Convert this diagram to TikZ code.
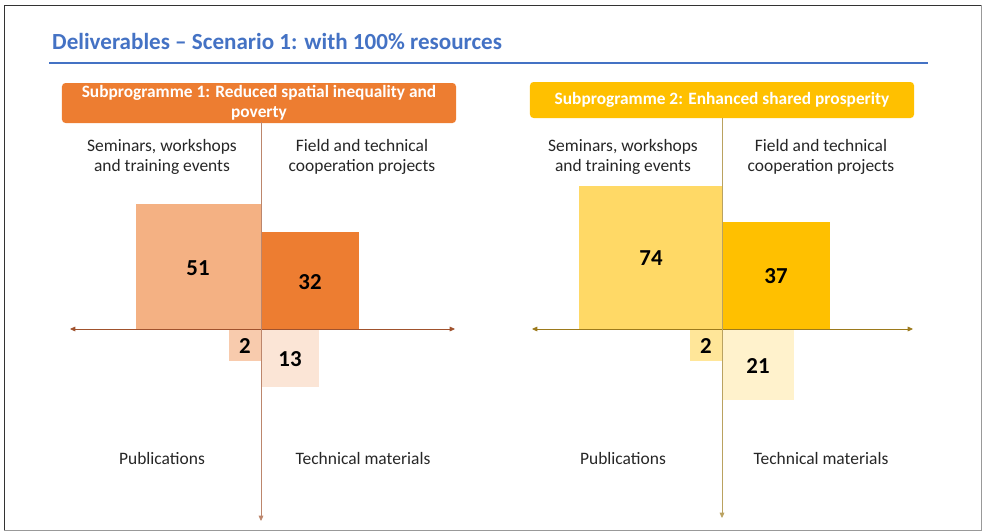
\documentclass[tikz,border=0pt]{standalone}
\usepackage{fontspec}
\setmainfont{Carlito}
\usetikzlibrary{arrows.meta}

\definecolor{titleblue}{HTML}{4472C4}
\definecolor{orangedark}{HTML}{ED7D31}
\definecolor{orangemid}{HTML}{F4B183}
\definecolor{orangelight}{HTML}{F8CBAD}
\definecolor{orangepale}{HTML}{FBE5D6}
\definecolor{golddark}{HTML}{FFC000}
\definecolor{goldmid}{HTML}{FFD966}
\definecolor{goldlight}{HTML}{FFE699}
\definecolor{goldpale}{HTML}{FFF2CC}
\definecolor{axisbrown}{HTML}{A0522D}
\definecolor{axisolive}{HTML}{9C7A1C}
\definecolor{textgray}{HTML}{262626}

\begin{document}
\begin{tikzpicture}[x=0.03cm, y=-0.03cm,
    header/.style={rounded corners=3pt, text=white, align=center, inner sep=0pt,
        font=\bfseries\fontsize{14.8}{17}\selectfont},
    category/.style={text=textgray, align=center, font=\fontsize{14.9}{17}\selectfont},
    count/.style={text=black, font=\bfseries\fontsize{19.5}{19.5}\selectfont},
    axis/.style={line width=0.6pt, {Triangle[length=4.5pt,width=4pt]}-{Triangle[length=4.5pt,width=4pt]}},
    downaxis/.style={line width=0.6pt, -{Triangle[length=4.5pt,width=4pt]}}
]
    \useasboundingbox (0,0) rectangle (982,531);

    % Slide frame
    \draw[gray!80, line width=0.8pt] (981,5) -- (981,530) -- (4,530);
    \draw[black!80, line width=0.8pt] (4,530) -- (4,5) -- (981,5);

    % Title and rule
    \node[anchor=base west, text=titleblue, font=\bfseries\fontsize{19.7}{22}\selectfont, inner sep=0pt]
        (title) at (52,49) {Deliverables -- Scenario 1: with 100\% resources};
    \draw[titleblue, line width=2.2pt] (49,63) -- (928,63);

    % Subprogramme headers
    \node[header, fill=orangedark, minimum width=11.82cm, minimum height=1.2cm] (sub1) at (259,103)
        {Subprogramme 1: Reduced spatial inequality and\\poverty};
    \node[header, fill=golddark, minimum width=11.52cm, minimum height=1.08cm] (sub2) at (722,100)
        {Subprogramme 2: Enhanced shared prosperity};

    % Subprogramme 1 quadrants
    \fill[orangemid] (136,204) rectangle (261,329);
    \fill[orangedark] (261,232) rectangle (359,329);
    \fill[orangelight] (229,329) rectangle (261,361);
    \fill[orangepale] (261,329) rectangle (319,387);
    \node[count] (n51) at (198,268) {51};
    \node[count] (n32) at (310,282) {32};
    \node[count] (n2a) at (245,346) {2};
    \node[count] (n13) at (290,359) {13};

    \coordinate (west1) at (70,329);
    \coordinate (east1) at (455,329);
    \coordinate (top1) at (261,122);
    \coordinate (bottom1) at (261,521);
    \draw[axis, axisbrown] (west1) -- (east1);
    \draw[downaxis, axisbrown!70] (top1) -- (bottom1);

    \node[category] (sem1) at (162,157) {Seminars, workshops\\and training events};
    \node[category] (field1) at (362,157) {Field and technical\\cooperation projects};
    \node[category] (pub1) at (162,458) {Publications};
    \node[category] (tech1) at (363,458) {Technical materials};

    % Subprogramme 2 quadrants
    \fill[goldmid] (579,186) rectangle (722,329);
    \fill[golddark] (722,222) rectangle (830,329);
    \fill[goldlight] (690,329) rectangle (722,361);
    \fill[goldpale] (722,329) rectangle (794,400);
    \node[count] (n74) at (651,258) {74};
    \node[count] (n37) at (776,276) {37};
    \node[count] (n2b) at (706,346) {2};
    \node[count] (n21) at (758,366) {21};

    \coordinate (west2) at (532,329);
    \coordinate (east2) at (913,329);
    \coordinate (top2) at (722,118);
    \coordinate (bottom2) at (722,518);
    \draw[axis, axisolive] (west2) -- (east2);
    \draw[downaxis, axisolive!70] (top2) -- (bottom2);

    \node[category] (sem2) at (623,157) {Seminars, workshops\\and training events};
    \node[category] (field2) at (821,157) {Field and technical\\cooperation projects};
    \node[category] (pub2) at (623,458) {Publications};
    \node[category] (tech2) at (821,458) {Technical materials};
\end{tikzpicture}
\end{document}
